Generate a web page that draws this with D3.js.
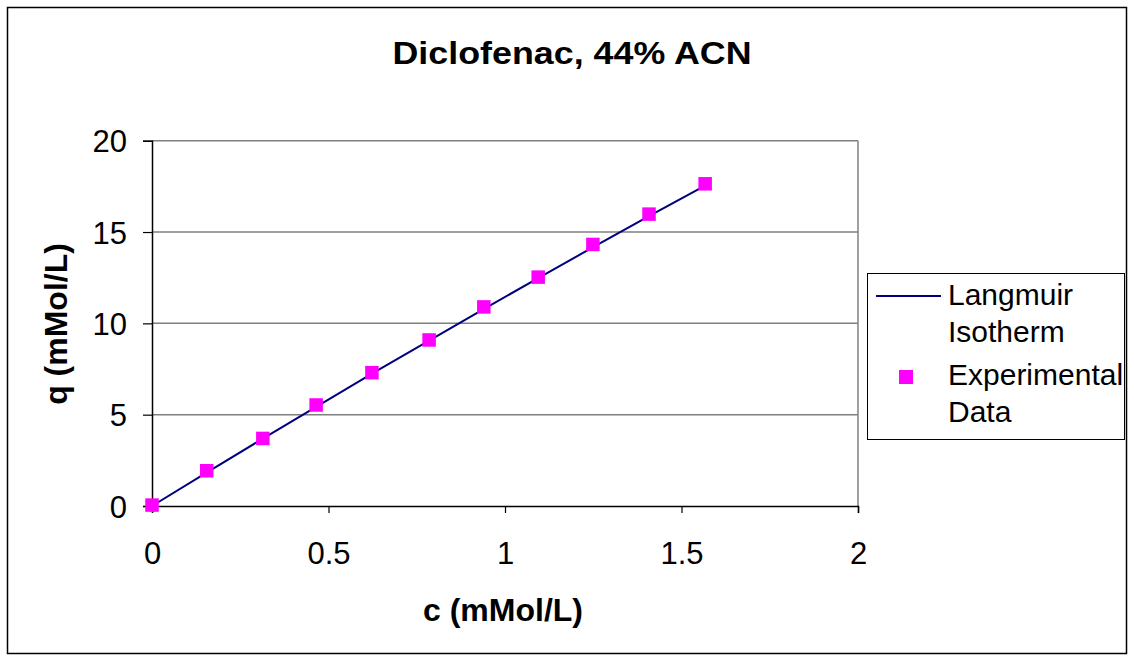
<!DOCTYPE html>
<html>
<head>
<meta charset="utf-8">
<script src="https://cdn.jsdelivr.net/npm/d3@7"></script>
<style>
  body { margin: 0; background: #fff; }
  svg text { font-family: "Liberation Sans", Arial, sans-serif; }
</style>
</head>
<body>
<svg id="chart"></svg>
<script>
  // data
  const expC = [0, 0.155, 0.314, 0.465, 0.623, 0.785, 0.94, 1.094, 1.249, 1.408, 1.567];
  const expQ = [0.05, 1.93, 3.70, 5.53, 7.30, 9.09, 10.90, 12.53, 14.32, 15.98, 17.64];
  const fitC = [0, 0.157, 0.314, 0.471, 0.628, 0.785, 0.942, 1.099, 1.256, 1.413, 1.567];
  const fitQ = [0, 1.86, 3.69, 5.50, 7.30, 9.06, 10.81, 12.53, 14.24, 15.92, 17.54];
  const xTicks = [0, 0.5, 1, 1.5, 2];
  const yTicks = [0, 5, 10, 15, 20];
  const legendNames = [["Langmuir", "Isotherm"], ["Experimental", "Data"]];

  const W = 1134, H = 661;
  const plot = { left: 152, right: 858, top: 140.7, bottom: 506 };

  const svg = d3.select("#chart").attr("width", W).attr("height", H);

  // outer chart border
  svg.append("rect")
    .attr("x", 7.5).attr("y", 7.5)
    .attr("width", W - 15).attr("height", H - 15)
    .attr("fill", "#fff").attr("stroke", "#000").attr("stroke-width", 1.5);

  const x = d3.scaleLinear().domain([0, 2]).range([plot.left, plot.right]);
  const y = d3.scaleLinear().domain([0, 20]).range([plot.bottom, plot.top]);

  // gridlines
  svg.append("g")
    .selectAll("line")
    .data(yTicks.slice(1))
    .enter().append("line")
      .attr("x1", plot.left).attr("x2", plot.right)
      .attr("y1", d => y(d)).attr("y2", d => y(d))
      .attr("stroke", "#808080").attr("stroke-width", 1.5);

  // right plot border
  svg.append("line")
    .attr("x1", plot.right).attr("x2", plot.right)
    .attr("y1", plot.top).attr("y2", plot.bottom)
    .attr("stroke", "#808080").attr("stroke-width", 1.5);

  const xAxis = svg.append("g")
    .attr("transform", `translate(0,${plot.bottom})`)
    .call(d3.axisBottom(x).tickValues(xTicks).tickSize(7).tickPadding(29).tickFormat(d3.format("")));
  const yAxis = svg.append("g")
    .attr("transform", `translate(${plot.left},0)`)
    .call(d3.axisLeft(y).tickValues(yTicks).tickSize(9).tickPadding(16));

  [xAxis, yAxis].forEach(a => {
    a.select(".domain").attr("stroke", "#000").attr("stroke-width", 1.5);
    a.selectAll(".tick line").attr("stroke", "#000").attr("stroke-width", 1.2);
    a.selectAll(".tick text")
      .attr("fill", "#000")
      .style("font-size", "31px")
      .style("font-family", "'Liberation Sans', Arial, sans-serif");
  });
  yAxis.selectAll(".tick text").attr("dy", "0.36em");

  // fitted line
  const line = d3.line().x(d => x(d[0])).y(d => y(d[1]));
  svg.append("path")
    .datum(fitC.map((c, i) => [c, fitQ[i]]))
    .attr("d", line)
    .attr("fill", "none").attr("stroke", "#000080").attr("stroke-width", 2);

  // experimental points
  const s = 13.5;
  svg.append("g")
    .selectAll("rect")
    .data(expC.map((c, i) => [c, expQ[i]]))
    .enter().append("rect")
      .attr("x", d => x(d[0]) - s / 2).attr("y", d => y(d[1]) - s / 2)
      .attr("width", s).attr("height", s)
      .attr("fill", "#ff00ff");

  // titles
  svg.append("text")
    .attr("x", 572).attr("y", 64)
    .attr("text-anchor", "middle")
    .attr("textLength", 359).attr("lengthAdjust", "spacingAndGlyphs")
    .style("font-size", "32px").style("font-weight", "bold")
    .text("Diclofenac, 44% ACN");

  svg.append("text")
    .attr("x", 503).attr("y", 621)
    .attr("text-anchor", "middle")
    .style("font-size", "32px").style("font-weight", "bold")
    .text("c (mMol/L)");

  svg.append("text")
    .attr("transform", "translate(67,324) rotate(-90)")
    .attr("text-anchor", "middle")
    .style("font-size", "32px").style("font-weight", "bold")
    .text("q (mMol/L)");

  // legend
  const lg = svg.append("g");
  lg.append("rect")
    .attr("x", 867.5).attr("y", 273.5)
    .attr("width", 257).attr("height", 166)
    .attr("fill", "#fff").attr("stroke", "#000").attr("stroke-width", 1);
  lg.append("line")
    .attr("x1", 876).attr("x2", 941).attr("y1", 296).attr("y2", 296)
    .attr("stroke", "#000080").attr("stroke-width", 2);
  lg.append("rect")
    .attr("x", 899).attr("y", 370).attr("width", 14).attr("height", 14)
    .attr("fill", "#ff00ff");
  const baselines = [[305, 341.7], [385, 421.7]];
  legendNames.forEach((lines, i) => {
    lines.forEach((t, j) => {
      lg.append("text")
        .attr("x", 948).attr("y", baselines[i][j])
        .style("font-size", "30px")
        .text(t);
    });
  });
</script>
</body>
</html>
